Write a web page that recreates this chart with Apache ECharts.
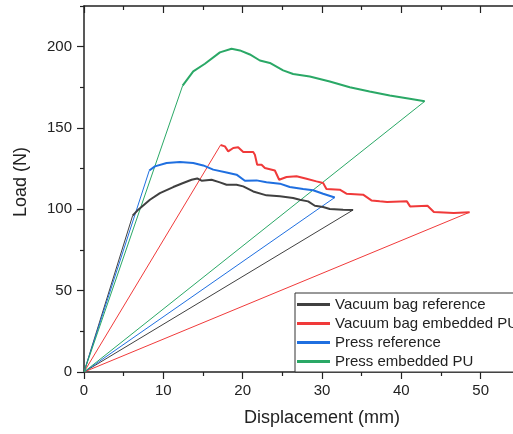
<!DOCTYPE html>
<html>
<head>
    <meta charset="utf-8">
    <script src="https://cdn.jsdelivr.net/npm/echarts@6.0.0/dist/echarts.min.js"></script>
</head>
<body style="margin:0">
    <div id="main" style="width: 513px;height:434px;"></div>
    <script type="text/javascript">
        // data: [displacement (mm), load (N)]
        var vacuumRef = [
            [6.13, 96.1], [6.84, 99.8], [8.31, 105.9], [9.57, 110.0], [11.25, 113.7], [12.5, 116.2],
            [13.56, 118.2], [14.27, 119.0], [14.82, 117.6], [16.08, 118.2], [17.13, 116.6], [17.97, 115.1],
            [19.23, 115.1], [20.07, 114.1], [21.33, 111.0], [23.0, 108.6], [24.69, 108.0], [26.36, 107.0],
            [27.2, 105.9], [28.25, 104.9], [29.1, 102.2], [30.14, 101.4], [30.98, 100.2], [32.66, 99.8],
            [33.92, 99.6]
        ];
        var vacuumPU = [
            [17.21, 139.5], [17.76, 138.7], [18.18, 135.6], [18.81, 137.7], [19.43, 138.1], [20.07, 135.2],
            [21.33, 135.2], [21.54, 133.6], [21.83, 127.4], [22.38, 127.4], [22.8, 125.4], [24.06, 123.9],
            [24.6, 118.2], [25.53, 119.9], [26.79, 120.3], [28.05, 118.8], [29.3, 117.2], [30.14, 116.2],
            [30.56, 112.5], [32.24, 112.1], [33.08, 109.6], [35.18, 109.0], [36.23, 105.5], [37.28, 104.9],
            [38.2, 104.5], [40.7, 104.9], [41.1, 101.8], [43.3, 102.2], [44.1, 98.4], [46.6, 97.7],
            [48.6, 98.2]
        ];
        var pressRef = [
            [8.23, 123.9], [8.94, 126.4], [10.41, 128.5], [12.09, 129.1], [13.77, 128.5], [15.03, 127.0],
            [16.29, 124.4], [17.97, 122.7], [19.23, 121.3], [20.28, 117.6], [21.75, 117.8], [23.0, 116.6],
            [24.69, 115.8], [25.94, 113.7], [27.62, 112.5], [28.88, 111.7], [30.14, 109.6], [31.61, 107.3]
        ];
        var pressPU = [
            [12.43, 176.0], [13.77, 184.8], [15.24, 189.5], [17.13, 196.5], [18.6, 198.7], [19.65, 197.7],
            [20.91, 195.2], [22.17, 191.5], [23.43, 190.0], [25.1, 185.4], [26.36, 183.2], [28.46, 181.7],
            [30.98, 178.6], [33.5, 175.0], [36.0, 172.5], [38.54, 170.0], [41.06, 168.0], [42.95, 166.4]
        ];
        var names = ['Vacuum bag reference', 'Vacuum bag embedded PU', 'Press reference', 'Press embedded PU'];
        var colors = ['#404040', '#f03a3a', '#1f6fe0', '#2aa866'];
        var yMajor = [0, 50, 100, 150, 200];
        var yMinor = [25, 75, 125, 175, 225];

        var font = 'Liberation Sans, Arial, sans-serif';
        var ink = '#222';
        var curves = [vacuumRef, vacuumPU, pressRef, pressPU];

        var series = [];
        // thin loading / unloading straight lines: last point -> origin -> first point
        curves.forEach(function (c, i) {
            series.push({
                name: names[i] + ' path',
                type: 'line',
                data: [c[c.length - 1], [0, 0], c[0]],
                showSymbol: false,
                silent: true,
                lineStyle: { color: colors[i], width: 1 },
                itemStyle: { color: colors[i] }
            });
        });
        curves.forEach(function (c, i) {
            series.push({
                name: names[i],
                type: 'line',
                data: c,
                showSymbol: false,
                lineStyle: { color: colors[i], width: 2 },
                itemStyle: { color: colors[i] }
            });
        });

        var myChart = echarts.init(document.getElementById('main'));
        var option = {
            animation: false,
            grid: { left: 84, right: -47, top: 6, bottom: 62, containLabel: false, outerBoundsMode: 'none' },
            legend: {
                data: names,
                orient: 'vertical',
                left: 295,
                top: 293,
                padding: [4, 40, 3, 2],
                itemGap: 4,
                itemWidth: 33,
                itemHeight: 3,
                icon: 'rect',
                borderColor: '#333',
                borderWidth: 1,
                backgroundColor: '#fff',
                textStyle: { fontFamily: font, fontSize: 15, color: ink, lineHeight: 15 }
            },
            xAxis: [{
                type: 'value',
                position: 'bottom',
                min: 0, max: 60, interval: 10,
                name: 'Displacement (mm)',
                nameLocation: 'middle',
                nameGap: 37,
                nameTextStyle: { fontFamily: font, fontSize: 18, color: ink },
                axisLine: { onZero: false, lineStyle: { color: ink, width: 1.5 } },
                axisTick: { length: 7, lineStyle: { color: ink, width: 1.2 } },
                minorTick: { show: true, splitNumber: 2, length: 4, lineStyle: { color: ink, width: 1.2 } },
                axisLabel: { fontFamily: font, fontSize: 15, color: ink, margin: 11 },
                splitLine: { show: false }
            }, {
                type: 'value',
                position: 'top',
                min: 0, max: 60, interval: 10,
                axisLine: { onZero: false, lineStyle: { color: ink, width: 1.5 } },
                axisTick: { inside: true, length: 7, lineStyle: { color: ink, width: 1.2 } },
                minorTick: { show: true, splitNumber: 2, length: 4, lineStyle: { color: ink, width: 1.2 } },
                axisLabel: { show: false },
                splitLine: { show: false }
            }],
            yAxis: [{
                type: 'value',
                min: 0, max: 225, interval: 25,
                name: 'Load (N)',
                nameLocation: 'middle',
                nameGap: 54,
                nameTextStyle: { fontFamily: font, fontSize: 18, color: ink, padding: [0, 0, 0, 14] },
                axisLine: { onZero: false, lineStyle: { color: ink, width: 1.5 } },
                axisTick: { length: 7, customValues: yMajor, lineStyle: { color: ink, width: 1.2 } },
                axisLabel: { fontFamily: font, fontSize: 15, color: ink, margin: 12, customValues: yMajor },
                splitLine: { show: false }
            }, {
                type: 'value',
                position: 'left',
                min: 0, max: 225, interval: 25,
                axisLine: { show: false, onZero: false },
                axisTick: { show: true, length: 4, customValues: yMinor, lineStyle: { color: ink, width: 1.2 } },
                axisLabel: { show: false },
                splitLine: { show: false }
            }],
            series: series
        };
        myChart.setOption(option);
    </script>
</body>
</html>
